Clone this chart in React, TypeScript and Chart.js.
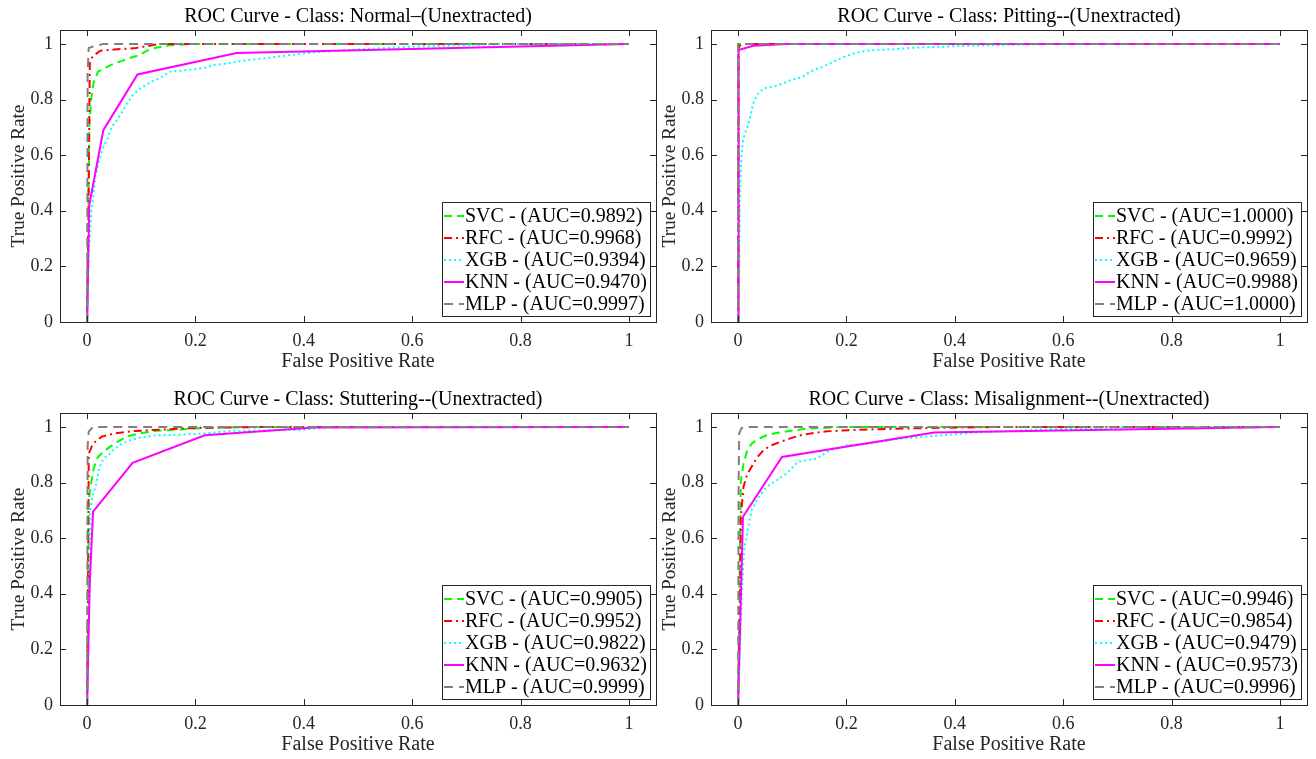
import React, { useEffect, useRef } from "react";
import { Chart, registerables } from "chart.js";

Chart.register(...registerables);

// ---------------- data ----------------
const xTicks = [0, 0.2, 0.4, 0.6, 0.8, 1];
const yTicks = [0, 0.2, 0.4, 0.6, 0.8, 1];
const models = ["SVC", "RFC", "XGB", "KNN", "MLP"];

// Class: Normal
const normalSvcFpr = [0, 0.003, 0.004, 0.008, 0.012, 0.02, 0.03, 0.038, 0.05, 0.066, 0.08, 0.097, 0.11, 0.125, 0.153, 0.2, 1];
const normalSvcTpr = [0, 0.5, 0.7, 0.81, 0.86, 0.9, 0.91, 0.918, 0.93, 0.94, 0.95, 0.96, 0.975, 0.985, 0.995, 1, 1];
const normalRfcFpr = [0, 0.003, 0.005, 0.01, 0.024, 0.05, 0.09, 0.134, 1];
const normalRfcTpr = [0, 0.5, 0.93, 0.955, 0.975, 0.98, 0.985, 1, 1];
const normalXgbFpr = [0, 0.003, 0.008, 0.011, 0.015, 0.022, 0.03, 0.038, 0.045, 0.056, 0.066, 0.075, 0.085, 0.095, 0.103, 0.12, 0.134, 0.153, 0.18, 0.214, 0.233, 0.26, 0.276, 0.31, 0.331, 0.374, 0.42, 0.5, 0.6, 0.7, 0.8, 1];
const normalXgbTpr = [0, 0.25, 0.4, 0.44, 0.52, 0.58, 0.63, 0.66, 0.7, 0.73, 0.76, 0.79, 0.817, 0.835, 0.846, 0.865, 0.877, 0.9, 0.905, 0.913, 0.924, 0.93, 0.936, 0.945, 0.949, 0.96, 0.97, 0.98, 0.99, 0.996, 1, 1];
const normalKnnFpr = [0, 0.004, 0.03, 0.093, 0.276, 1];
const normalKnnTpr = [0, 0.42, 0.69, 0.89, 0.967, 1];
const normalMlpFpr = [0, 0.001, 0.003, 0.01, 0.03, 1];
const normalMlpTpr = [0, 0.9, 0.985, 0.99, 1, 1];
const normalAuc = [0.9892, 0.9968, 0.9394, 0.947, 0.9997];

// Class: Pitting
const pittingSvcFpr = [0, 0, 1];
const pittingSvcTpr = [0, 1, 1];
const pittingRfcFpr = [0, 0.001, 0.004, 0.012, 1];
const pittingRfcTpr = [0, 0.985, 0.995, 1, 1];
const pittingXgbFpr = [0, 0.002, 0.003, 0.005, 0.007, 0.01, 0.013, 0.017, 0.021, 0.028, 0.035, 0.047, 0.06, 0.072, 0.085, 0.097, 0.118, 0.133, 0.145, 0.157, 0.17, 0.182, 0.2, 0.225, 0.25, 0.28, 0.33, 0.38, 0.416, 0.5, 0.6, 1];
const pittingXgbTpr = [0, 0.2, 0.44, 0.55, 0.62, 0.66, 0.68, 0.7, 0.727, 0.787, 0.817, 0.84, 0.845, 0.85, 0.86, 0.87, 0.88, 0.9, 0.91, 0.918, 0.93, 0.942, 0.957, 0.972, 0.978, 0.98, 0.987, 0.99, 0.993, 0.997, 1, 1];
const pittingKnnFpr = [0, 0.001, 0.028, 0.09, 1];
const pittingKnnTpr = [0, 0.978, 0.993, 1, 1];
const pittingMlpFpr = [0, 0, 1];
const pittingMlpTpr = [0, 1, 1];
const pittingAuc = [1.0, 0.9992, 0.9659, 0.9988, 1.0];

// Class: Stuttering
const stutterSvcFpr = [0, 0.002, 0.003, 0.008, 0.012, 0.02, 0.03, 0.042, 0.055, 0.073, 0.097, 0.128, 0.196, 0.3, 1];
const stutterSvcTpr = [0, 0.4, 0.737, 0.802, 0.85, 0.892, 0.91, 0.928, 0.945, 0.965, 0.977, 0.986, 0.994, 1, 1];
const stutterRfcFpr = [0, 0.002, 0.003, 0.011, 0.027, 0.051, 0.085, 0.134, 0.208, 0.35, 1];
const stutterRfcTpr = [0, 0.5, 0.904, 0.94, 0.965, 0.977, 0.985, 0.99, 0.997, 1, 1];
const stutterXgbFpr = [0, 0.003, 0.006, 0.01, 0.017, 0.022, 0.03, 0.04, 0.048, 0.06, 0.079, 0.1, 0.128, 0.17, 0.214, 0.27, 0.393, 0.45, 1];
const stutterXgbTpr = [0, 0.35, 0.7, 0.75, 0.796, 0.85, 0.886, 0.9, 0.916, 0.935, 0.952, 0.962, 0.97, 0.972, 0.976, 0.986, 0.989, 1, 1];
const stutterKnnFpr = [0, 0.005, 0.011, 0.084, 0.217, 0.42, 1];
const stutterKnnTpr = [0, 0.44, 0.695, 0.871, 0.97, 0.998, 1];
const stutterMlpFpr = [0, 0.001, 0.003, 0.011, 1];
const stutterMlpTpr = [0, 0.93, 0.983, 1, 1];
const stutterAuc = [0.9905, 0.9952, 0.9822, 0.9632, 0.9999];

// Class: Misalignment
const misalignSvcFpr = [0, 0.003, 0.005, 0.01, 0.016, 0.025, 0.038, 0.053, 0.068, 0.083, 0.105, 0.127, 0.2, 1];
const misalignSvcTpr = [0, 0.5, 0.802, 0.868, 0.91, 0.94, 0.958, 0.97, 0.977, 0.982, 0.988, 0.994, 1, 1];
const misalignRfcFpr = [0, 0.004, 0.005, 0.01, 0.017, 0.025, 0.035, 0.047, 0.06, 0.078, 0.095, 0.115, 0.14, 0.164, 0.225, 0.348, 0.5, 1];
const misalignRfcTpr = [0, 0.45, 0.677, 0.785, 0.83, 0.857, 0.89, 0.916, 0.933, 0.946, 0.958, 0.97, 0.978, 0.984, 0.99, 0.996, 1, 1];
const misalignXgbFpr = [0, 0.005, 0.008, 0.011, 0.019, 0.025, 0.038, 0.053, 0.072, 0.09, 0.111, 0.145, 0.17, 0.2, 0.243, 0.299, 0.378, 0.44, 0.55, 0.7, 0.85, 1];
const misalignXgbTpr = [0, 0.3, 0.449, 0.557, 0.641, 0.7, 0.748, 0.785, 0.809, 0.833, 0.875, 0.886, 0.916, 0.934, 0.94, 0.958, 0.97, 0.98, 0.99, 0.997, 1, 1];
const misalignKnnFpr = [0, 0.009, 0.081, 0.362, 1];
const misalignKnnTpr = [0, 0.677, 0.892, 0.98, 1];
const misalignMlpFpr = [0, 0.001, 0.002, 0.006, 0.01, 1];
const misalignMlpTpr = [0, 0.8, 0.976, 0.995, 1, 1];
const misalignAuc = [0.9946, 0.9854, 0.9479, 0.9573, 0.9996];

const titles = [
  "ROC Curve - Class: Normal\u2013(Unextracted)",
  "ROC Curve - Class: Pitting--(Unextracted)",
  "ROC Curve - Class: Stuttering--(Unextracted)",
  "ROC Curve - Class: Misalignment--(Unextracted)",
];

// ---------------- styles ----------------
const FONT_FAMILY = "'Liberation Serif', 'Times New Roman', serif";
const TICK_SIZE = 18;
const XLABEL_SIZE = 20;
const YLABEL_SIZE = 19.3;
const TITLE_SIZE = 20;
const LEGEND_SIZE = 20;
const AXIS_COLOR = "#262626";
const modelColors = ["#00ff00", "#ff0000", "#00ffff", "#ff00ff", "#808080"];
const modelDashes: number[][] = [[8, 5], [8, 4, 2, 4], [2, 3], [], [9, 6]];
const modelOrder = [5, 4, 3, 2, 1];

type PanelProps = {
  title: string;
  fprs: number[][];
  tprs: number[][];
  auc: number[];
  left: number;
  top: number;
  width: number;
  height: number;
  padRight: number;
};

const fmtTick = (v: number | string) => String(Number(Number(v).toFixed(2)));

const decorPlugin = {
  id: "matlabDecor",
  afterDraw(chart: any) {
    const { ctx, chartArea, scales } = chart;
    const opts = chart.options.plugins.matlabDecor;
    const { left, right, top, bottom } = chartArea;
    ctx.save();
    // box
    ctx.strokeStyle = AXIS_COLOR;
    ctx.lineWidth = 1;
    ctx.setLineDash([]);
    ctx.strokeRect(Math.round(left) + 0.5, Math.round(top) + 0.5, Math.round(right - left), Math.round(bottom - top));
    // inward ticks
    const tl = 6;
    ctx.beginPath();
    xTicks.forEach((v) => {
      const px = Math.round(scales.x.getPixelForValue(v)) + 0.5;
      ctx.moveTo(px, bottom);
      ctx.lineTo(px, bottom - tl);
      ctx.moveTo(px, top);
      ctx.lineTo(px, top + tl);
    });
    yTicks.forEach((v) => {
      const py = Math.round(scales.y.getPixelForValue(v)) + 0.5;
      ctx.moveTo(left, py);
      ctx.lineTo(left + tl, py);
      ctx.moveTo(right, py);
      ctx.lineTo(right - tl, py);
    });
    ctx.stroke();

    // title
    ctx.font = `${TITLE_SIZE}px ${FONT_FAMILY}`;
    ctx.fillStyle = "#000";
    ctx.textAlign = "center";
    ctx.textBaseline = "middle";
    ctx.fillText(opts.title, (left + right) / 2, top - 13);

    // legend
    ctx.font = `${LEGEND_SIZE}px ${FONT_FAMILY}`;
    const texts = models.map((m, i) => `${m} - (AUC=${opts.auc[i].toFixed(4)})`);
    const tw = Math.max(...texts.map((t) => ctx.measureText(t).width));
    const rowH = 22;
    const w = Math.round(24 + tw + 2);
    const h = 114;
    const lx = Math.round(right - 6 - w);
    const ly = Math.round(bottom - 6 - h);
    ctx.fillStyle = "#fff";
    ctx.fillRect(lx, ly, w, h);
    ctx.strokeStyle = AXIS_COLOR;
    ctx.lineWidth = 1;
    ctx.strokeRect(lx + 0.5, ly + 0.5, w, h);
    chart.data.datasets.forEach((ds: any, i: number) => {
      const cy = ly + 14 + i * rowH;
      ctx.save();
      ctx.strokeStyle = ds.borderColor;
      ctx.lineWidth = ds.borderWidth;
      ctx.setLineDash(ds.borderDash || []);
      ctx.beginPath();
      ctx.moveTo(lx + 2, cy);
      ctx.lineTo(lx + 22, cy);
      ctx.stroke();
      ctx.restore();
      ctx.fillStyle = "#000";
      ctx.textAlign = "left";
      ctx.textBaseline = "middle";
      ctx.fillText(texts[i], lx + 23, cy + 1);
    });
    ctx.restore();
  },
};

function RocPanel(props: PanelProps) {
  const ref = useRef<HTMLCanvasElement | null>(null);
  useEffect(() => {
    if (!ref.current) return;
    const tickFont = { family: FONT_FAMILY, size: TICK_SIZE };
    const datasets = models.map((m, i) => ({
      label: m,
      data: props.fprs[i].map((x, j) => ({ x, y: props.tprs[i][j] })),
      borderColor: modelColors[i],
      backgroundColor: modelColors[i],
      borderDash: modelDashes[i],
      borderWidth: 2,
      pointRadius: 0,
      fill: false,
      tension: 0,
      order: modelOrder[i],
    }));
    const chart = new Chart(ref.current, {
      type: "line",
      data: { datasets } as any,
      options: {
        animation: false,
        responsive: false,
        maintainAspectRatio: false,
        events: [],
        layout: { padding: { top: 30, right: props.padRight, left: 0, bottom: 0 } },
        plugins: {
          legend: { display: false },
          tooltip: { enabled: false },
          title: { display: false },
          matlabDecor: { title: props.title, auc: props.auc },
        } as any,
        scales: {
          x: {
            type: "linear",
            min: -0.05,
            max: 1.05,
            afterBuildTicks: (s: any) => {
              s.ticks = xTicks.map((v) => ({ value: v }));
            },
            afterFit: (s: any) => {
              s.height = 58;
            },
            grid: { display: false, drawTicks: false },
            border: { display: false },
            ticks: { font: tickFont, color: AXIS_COLOR, padding: 8, maxRotation: 0, autoSkip: false, callback: fmtTick },
            title: {
              display: true,
              text: "False Positive Rate",
              font: { family: FONT_FAMILY, size: XLABEL_SIZE },
              color: AXIS_COLOR,
              padding: { top: 0, bottom: 6 },
            },
          },
          y: {
            type: "linear",
            min: 0,
            max: 1.05,
            afterBuildTicks: (s: any) => {
              s.ticks = yTicks.map((v) => ({ value: v }));
            },
            afterFit: (s: any) => {
              s.width = 60;
            },
            grid: { display: false, drawTicks: false },
            border: { display: false },
            ticks: { font: tickFont, color: AXIS_COLOR, padding: 7, autoSkip: false, callback: fmtTick },
            title: {
              display: true,
              text: "True Positive Rate",
              font: { family: FONT_FAMILY, size: YLABEL_SIZE },
              color: AXIS_COLOR,
              padding: { top: 7, bottom: 0 },
            },
          },
        },
      } as any,
      plugins: [decorPlugin],
    });
    return () => chart.destroy();
  }, []);
  return (
    <canvas
      ref={ref}
      width={props.width}
      height={props.height}
      style={{ position: "absolute", left: props.left, top: props.top, width: props.width, height: props.height, display: "block" }}
    />
  );
}

export default function App() {
  const panels: PanelProps[] = [
    {
      title: titles[0],
      fprs: [normalSvcFpr, normalRfcFpr, normalXgbFpr, normalKnnFpr, normalMlpFpr],
      tprs: [normalSvcTpr, normalRfcTpr, normalXgbTpr, normalKnnTpr, normalMlpTpr],
      auc: normalAuc,
      left: 0, top: 0, width: 658, height: 380, padRight: 2,
    },
    {
      title: titles[1],
      fprs: [pittingSvcFpr, pittingRfcFpr, pittingXgbFpr, pittingKnnFpr, pittingMlpFpr],
      tprs: [pittingSvcTpr, pittingRfcTpr, pittingXgbTpr, pittingKnnTpr, pittingMlpTpr],
      auc: pittingAuc,
      left: 651, top: 0, width: 665, height: 380, padRight: 9,
    },
    {
      title: titles[2],
      fprs: [stutterSvcFpr, stutterRfcFpr, stutterXgbFpr, stutterKnnFpr, stutterMlpFpr],
      tprs: [stutterSvcTpr, stutterRfcTpr, stutterXgbTpr, stutterKnnTpr, stutterMlpTpr],
      auc: stutterAuc,
      left: 0, top: 383, width: 658, height: 380, padRight: 2,
    },
    {
      title: titles[3],
      fprs: [misalignSvcFpr, misalignRfcFpr, misalignXgbFpr, misalignKnnFpr, misalignMlpFpr],
      tprs: [misalignSvcTpr, misalignRfcTpr, misalignXgbTpr, misalignKnnTpr, misalignMlpTpr],
      auc: misalignAuc,
      left: 651, top: 383, width: 665, height: 380, padRight: 9,
    },
  ];
  return (
    <div style={{ position: "absolute", left: 0, top: 0, width: 1316, height: 759, overflow: "hidden", background: "#fff" }}>
      {panels.map((p, i) => (
        <RocPanel key={i} {...p} />
      ))}
    </div>
  );
}
